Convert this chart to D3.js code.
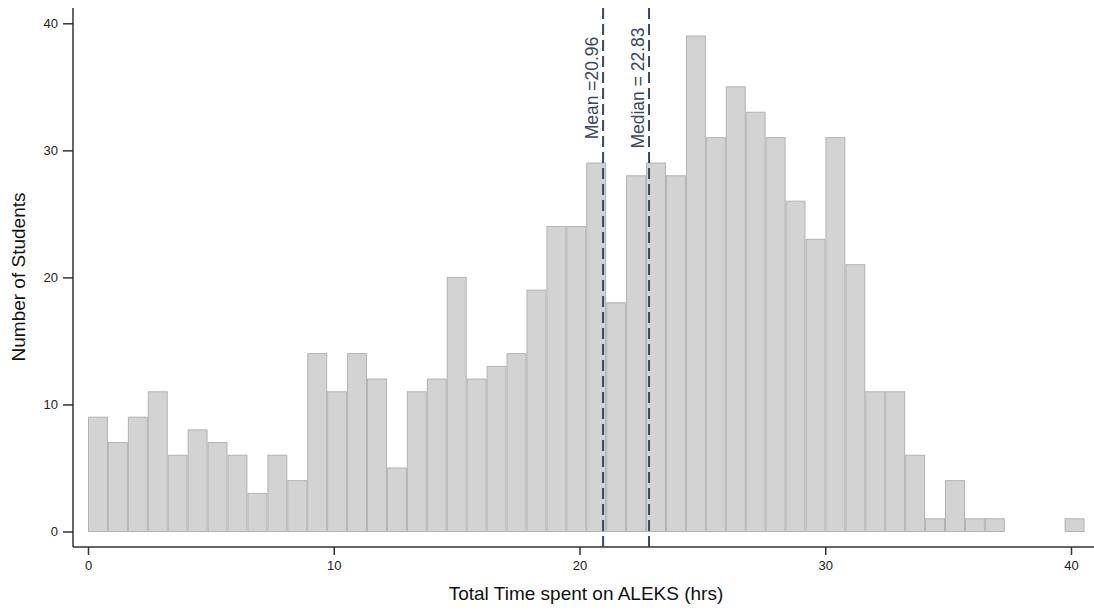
<!DOCTYPE html>
<html>
<head>
<meta charset="utf-8">
<script src="https://cdn.jsdelivr.net/npm/d3@7"></script>
<style>
  body { margin: 0; background: #fff; }
  svg { display: block; font-family: "Liberation Sans", Arial, sans-serif; }
</style>
</head>
<body>
<div class="graph"></div>
<script>
// histogram counts, 50 equal bins starting at 0
const binWidth = 0.811;
const counts = [
  9, 7, 9, 11, 6, 8, 7, 6, 3, 6,
  4, 14, 11, 14, 12, 5, 11, 12, 20, 12,
  13, 14, 19, 24, 24, 29, 18, 28, 29, 28,
  39, 31, 35, 33, 31, 26, 23, 31, 21, 11,
  11, 6, 1, 4, 1, 1, 0, 0, 0, 1
];
const xTicks = [0, 10, 20, 30, 40];
const yTicks = [0, 10, 20, 30, 40];
const refLines = [
  { value: 20.96, label: "Mean =20.96" },
  { value: 22.83, label: "Median = 22.83" }
];

const width = 1094, height = 610;
const axisX = 73, axisY = 547;

const x = d3.scaleLinear().domain([0, 40]).range([88, 1071]);
const y = d3.scaleLinear().domain([0, 40]).range([531.5, 23.3]);

const svg = d3.select(".graph").append("svg")
  .attr("width", width)
  .attr("height", height);

const bins = counts.map((c, i) => ({ x0: i * binWidth, x1: (i + 1) * binWidth, n: c }));

// Bars
svg.selectAll(".bar")
  .data(bins.filter(d => d.n > 0))
  .enter()
  .append("rect")
  .attr("class", "bar")
  .attr("x", d => x(d.x0) + 0.5)
  .attr("y", d => y(d.n))
  .attr("width", d => x(d.x1) - x(d.x0) - 1)
  .attr("height", d => y(0) - y(d.n))
  .attr("fill", "#d3d3d3")
  .attr("stroke", "#b3b3b3")
  .attr("stroke-width", 1);

// Axes
const xAxis = d3.axisBottom(x).tickValues(xTicks).tickSize(8).tickPadding(6);
const gx = svg.append("g")
  .attr("transform", `translate(0,${axisY})`)
  .call(xAxis);
gx.select(".domain").remove();
gx.append("line")
  .attr("x1", axisX).attr("x2", width)
  .attr("stroke", "#333").attr("stroke-width", 1.5);

const yAxis = d3.axisLeft(y).tickValues(yTicks).tickSize(10).tickPadding(5);
const gy = svg.append("g")
  .attr("transform", `translate(${axisX},0)`)
  .call(yAxis);
gy.select(".domain").remove();
gy.append("line")
  .attr("y1", 8).attr("y2", axisY)
  .attr("stroke", "#333").attr("stroke-width", 1.5);

svg.selectAll(".tick line").attr("stroke", "#333").attr("stroke-width", 1.5);
svg.selectAll(".tick text")
  .attr("fill", "#222")
  .style("font-size", "13px")
  .style("font-family", "'Liberation Sans', Arial, sans-serif");

// Mean / median lines
const refs = svg.selectAll(".ref").data(refLines).enter().append("g").attr("class", "ref");
refs.append("line")
  .attr("x1", d => x(d.value)).attr("x2", d => x(d.value))
  .attr("y1", 8).attr("y2", axisY)
  .attr("stroke", "#3b4660")
  .attr("stroke-width", 2)
  .attr("stroke-dasharray", "11,5");
refs.append("text")
  .attr("transform", d => `translate(${x(d.value) - 5},88) rotate(-90)`)
  .attr("text-anchor", "middle")
  .attr("fill", "#3b4660")
  .style("font-size", "17.5px")
  .text(d => d.label);

// Labels
svg.append("text")
  .attr("x", 586)
  .attr("y", 600)
  .attr("text-anchor", "middle")
  .attr("fill", "#111")
  .style("font-size", "19px")
  .text("Total Time spent on ALEKS (hrs)");

svg.append("text")
  .attr("transform", "translate(25,277) rotate(-90)")
  .attr("text-anchor", "middle")
  .attr("fill", "#111")
  .style("font-size", "19px")
  .text("Number of Students");
</script>
</body>
</html>
